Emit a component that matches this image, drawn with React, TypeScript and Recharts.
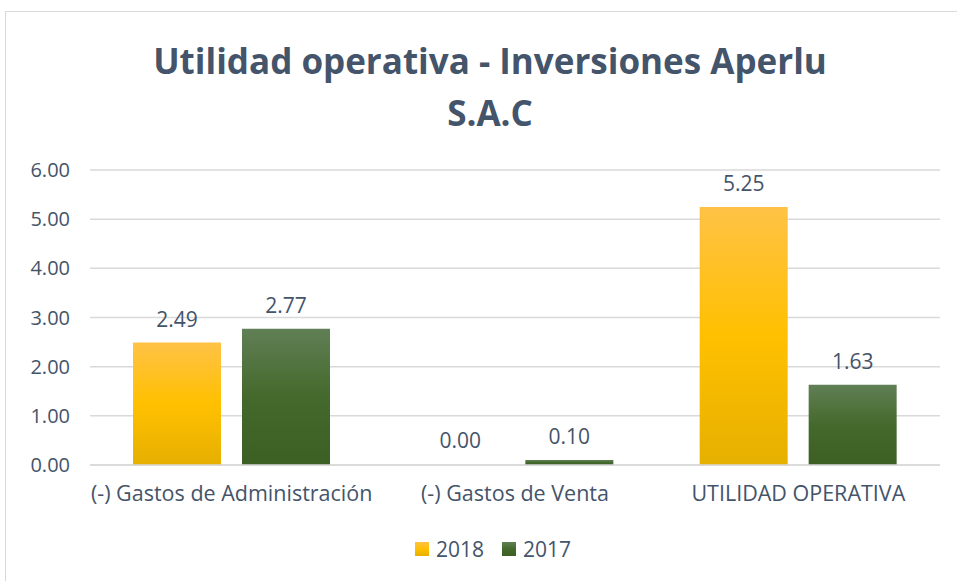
import { BarChart, Bar, XAxis, YAxis, CartesianGrid, LabelList, Legend, Cell } from "recharts";

const categories = ["(-) Gastos de Administración", "(-) Gastos de Venta", "UTILIDAD OPERATIVA"];
const values2018 = [2.49, 0.0, 5.25];
const values2017 = [2.77, 0.1, 1.63];
const yTicks = [0, 1, 2, 3, 4, 5, 6];

const data = categories.map((name, i) => ({ name, y2018: values2018[i], y2017: values2017[i] }));

const textColor = "#44546A";
const font = "'Open Sans', sans-serif";

function LegendContent() {
  const items = [
    { label: "2018", fill: "url(#gold)" },
    { label: "2017", fill: "url(#green)" },
  ];
  return (
    <div style={{ display: "flex", justifyContent: "center", alignItems: "center", height: 30, fontFamily: font, fontSize: 21, color: textColor, paddingLeft: 46 }}>
      {items.map((it) => (
        <div key={it.label} style={{ display: "flex", alignItems: "center", margin: "0 9px" }}>
          <svg width={14} height={14} style={{ marginRight: 7 }}>
            <rect width={14} height={14} fill={it.fill} />
          </svg>
          <span>{it.label}</span>
        </div>
      ))}
    </div>
  );
}

// label renderer that also shows zero values
const renderLabel = (props: any) => {
  const { x, y, width, value } = props;
  if (value === undefined || value === null) return null;
  return (
    <text
      x={Number(x) + Number(width) / 2}
      y={Number(y) - 16}
      textAnchor="middle"
      fill={textColor}
      fontSize={21}
      fontFamily={font}
    >
      {Number(value).toFixed(2)}
    </text>
  );
};

export default function App() {
  return (
    <div style={{ position: "absolute", left: 0, top: 0, width: 957, height: 581, background: "#fff", overflow: "hidden" }}>
      <div style={{ position: "absolute", left: 5, top: 11, width: 970, height: 600, border: "1px solid #D9D9D9" }} />
      <div
        style={{
          position: "absolute",
          left: 40,
          width: 900,
          top: 35,
          textAlign: "center",
          fontFamily: font,
          fontWeight: 700,
          fontSize: 35,
          lineHeight: "52px",
          color: textColor,
        }}
      >
        Utilidad operativa - Inversiones Aperlu
        <br />
        S.A.C
      </div>
      <div style={{ position: "absolute", left: 0, top: 0 }}>
        <BarChart
          width={957}
          height={581}
          data={data}
          margin={{ top: 170, right: 17, left: 0, bottom: 17 }}
          barCategoryGap={43}
          barGap={21}
        >
          <defs>
            <linearGradient id="gold" x1="0" y1="0" x2="0" y2="1">
              <stop offset="0%" stopColor="#FFC246" />
              <stop offset="50%" stopColor="#FFC000" />
              <stop offset="100%" stopColor="#E6B000" />
            </linearGradient>
            <linearGradient id="green" x1="0" y1="0" x2="0" y2="1">
              <stop offset="0%" stopColor="#617F55" />
              <stop offset="50%" stopColor="#44692C" />
              <stop offset="100%" stopColor="#3C5F23" />
            </linearGradient>
          </defs>
          <CartesianGrid vertical={false} stroke="#D9D9D9" strokeWidth={1.5} />
          <XAxis
            dataKey="name"
            height={69}
            axisLine={{ stroke: "#D9D9D9", strokeWidth: 1.5 }}
            tickLine={false}
            tickSize={0}
            tickMargin={21}
            tick={{ fill: textColor, fontSize: 21.5, fontFamily: font }}
            interval={0}
          />
          <YAxis
            width={90}
            domain={[0, 6]}
            ticks={yTicks}
            axisLine={false}
            tickLine={false}
            tickSize={0}
            tickMargin={20}
            tickFormatter={(v: number) => v.toFixed(2)}
            tick={{ fill: textColor, fontSize: 20, fontFamily: font }}
          />
          <Legend verticalAlign="bottom" content={<LegendContent />} wrapperStyle={{ height: 30 }} />
          <Bar dataKey="y2018" name="2018" fill="url(#gold)" minPointSize={1} isAnimationActive={false}>
            {values2018.map((v, i) => (
              <Cell key={i} fill={v === 0 ? "transparent" : "url(#gold)"} />
            ))}
            <LabelList dataKey="y2018" content={renderLabel} />
          </Bar>
          <Bar dataKey="y2017" name="2017" fill="url(#green)" isAnimationActive={false}>
            <LabelList dataKey="y2017" content={renderLabel} />
          </Bar>
        </BarChart>
      </div>
    </div>
  );
}
